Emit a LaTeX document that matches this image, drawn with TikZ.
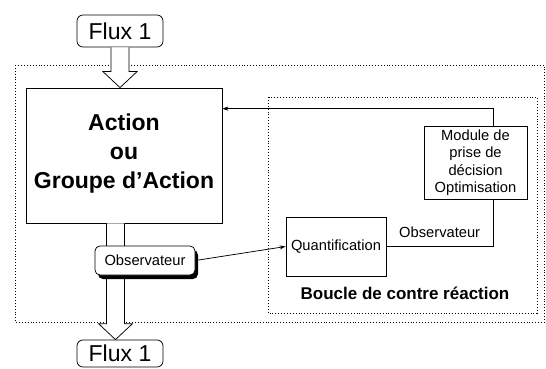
\documentclass[tikz,border=0pt]{standalone}
\usepackage{fontspec}
\setmainfont{Liberation Sans}
\usetikzlibrary{arrows.meta,positioning,calc,shadows}

% hollow flow arrow, pointing down from #1 to #2
\newcommand{\fluxarrow}[2]{%
  \draw[fill=white] ($(#1)+(-9,0)$) -- ($(#2)+(-9,-16)$) -- ($(#2)+(-17,-16)$)
    -- (#2) -- ($(#2)+(17,-16)$) -- ($(#2)+(9,-16)$) -- ($(#1)+(9,0)$);}

\begin{document}
\begin{tikzpicture}[x=1pt,y=-1pt, line width=0.75pt,
    fluxbox/.style={draw, fill=white, rounded corners=6pt, minimum width=86pt,
      font=\fontsize{23}{26}\selectfont},
    blockbox/.style={draw, fill=white, align=center,
      font=\fontsize{14.7}{17.5}\selectfont},
    frame/.style={dotted, line width=0.9pt},
    >={Stealth[length=6pt,width=4pt]}]
    \useasboundingbox (0,0) rectangle (546,369);
    % --- Cadres pointilles ---
    \draw[frame] (15,65) rectangle (544.5,322);
    \draw[frame] (268,97) rectangle (537,313);
    % --- Flux ---
    \node[fluxbox, minimum height=32pt] (fluxin) at (120,31) {Flux 1};
    \node[fluxbox, minimum height=27pt] (fluxout) at (120,353.5) {Flux 1};
    % --- Action ---
    \node[draw, fill=white, minimum width=196pt, minimum height=135pt, align=center,
      font=\bfseries\fontsize{23}{29}\selectfont] (action) at (124,155.5)
      {Action\\ou\\Groupe d’Action\\[-21pt]};
    % --- Boucle de contre reaction ---
    \node[blockbox, minimum width=100pt, minimum height=59pt] (quant) at (336,246.5) {Quantification};
    \node[blockbox, minimum width=103pt, minimum height=71pt] (modl) at (475.5,162.5)
      {Module de\\prise de\\décision\\Optimisation};
    \node[font=\bfseries\fontsize{17}{20}\selectfont] (boucle) at (405,293) {Boucle de contre réaction};
    % --- Fleches de flux ---
    \coordinate (inTip) at (fluxin.south |- action.north);
    \fluxarrow{fluxin.south}{inTip}
    \coordinate (outTip) at ([xshift=-4.5pt]fluxout.north);
    \coordinate (outTop) at (outTip |- action.south);
    \fluxarrow{outTop}{outTip}
    \node[draw, fill=white, rounded corners=5pt, minimum width=100pt, minimum height=29pt,
      font=\fontsize{14.7}{17}\selectfont,
      general shadow={fill=black, shadow xshift=3pt, shadow yshift=-4pt}] (obs) at (145,260.5) {Observateur};
    % --- Liaisons ---
    \draw[->] (obs.east) -- (quant.west);
    \draw (quant.east) -| node[pos=0.25, above=5pt, font=\fontsize{14.7}{17}\selectfont] (obslabel) {Observateur}
      ([xshift=17.5pt]modl.south);
    \draw[->] ([xshift=17.5pt]modl.north) |- ([yshift=-21pt]action.north east);
\end{tikzpicture}
\end{document}
